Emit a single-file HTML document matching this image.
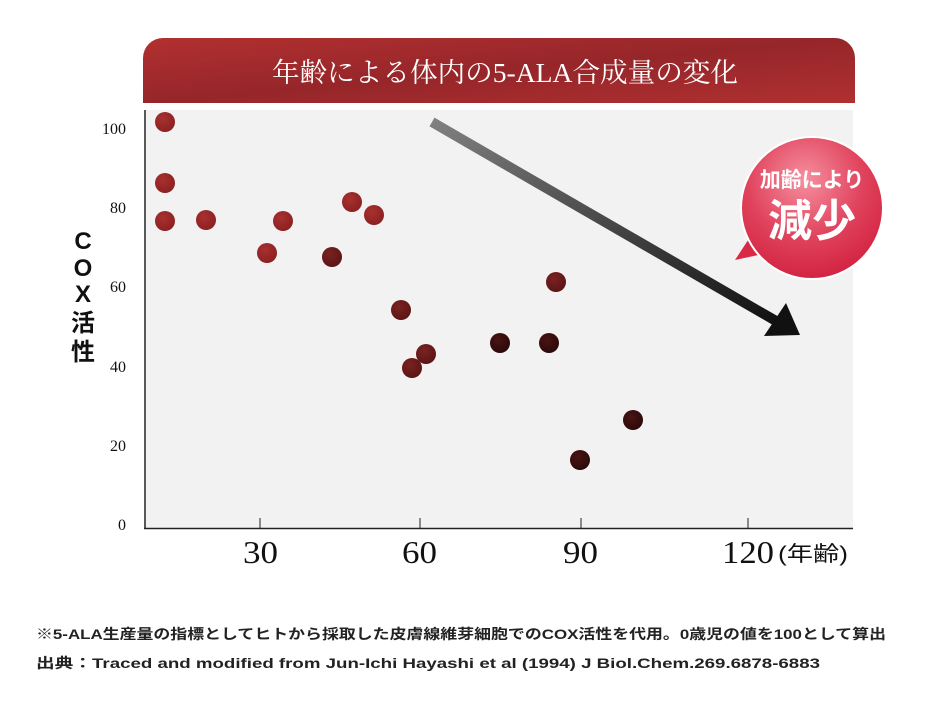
<!DOCTYPE html>
<html><head><meta charset="utf-8"><style>
body{margin:0;background:#fff;width:950px;height:705px;overflow:hidden;font-family:"Liberation Sans","Noto Sans CJK JP",sans-serif}
</style></head><body>
<svg width="950" height="705" viewBox="0 0 950 705" xmlns="http://www.w3.org/2000/svg">
<defs>
<linearGradient id="ban" x1="0" y1="0" x2="1" y2="1"><stop offset="0" stop-color="#b23030"/><stop offset=".5" stop-color="#96262a"/><stop offset="1" stop-color="#b03030"/></linearGradient>
<linearGradient id="arr" x1="0" y1="0" x2="1" y2="1"><stop offset="0" stop-color="#808080"/><stop offset="1" stop-color="#111"/></linearGradient>
<radialGradient id="bad" cx=".45" cy=".3" r=".75"><stop offset="0" stop-color="#f5909f"/><stop offset=".55" stop-color="#e0425c"/><stop offset="1" stop-color="#d01f3e"/></radialGradient>
<radialGradient id="d1" cx=".4" cy=".35" r=".7"><stop offset="0" stop-color="#a83030"/><stop offset="1" stop-color="#8a2020"/></radialGradient>
<radialGradient id="d2" cx=".4" cy=".35" r=".7"><stop offset="0" stop-color="#7a2222"/><stop offset="1" stop-color="#5a1414"/></radialGradient>
<radialGradient id="d3" cx=".4" cy=".35" r=".7"><stop offset="0" stop-color="#4a1414"/><stop offset="1" stop-color="#2a0808"/></radialGradient>
</defs>
<path d="M143 103V58a20 20 0 0 1 20-20h672a20 20 0 0 1 20 20v45z" fill="url(#ban)"/>
<text x="272" y="82" fill="#fff" font-family="Liberation Serif,'Noto Serif CJK SC',serif" font-size="27" textLength="466" lengthAdjust="spacingAndGlyphs">年齢による体内の5-ALA合成量の変化</text>
<rect x="146" y="110" width="707" height="418" fill="#f2f2f2"/>
<line x1="145" y1="110" x2="145" y2="529" stroke="#222" stroke-width="1.5"/>
<line x1="144" y1="528.5" x2="853" y2="528.5" stroke="#222" stroke-width="1.5"/>
<g stroke="#222" stroke-width="1"><line x1="260" y1="518" x2="260" y2="528"/><line x1="420" y1="518" x2="420" y2="528"/><line x1="581" y1="518" x2="581" y2="528"/><line x1="748" y1="518" x2="748" y2="528"/></g>
<g font-family="Liberation Serif,serif" font-size="16" fill="#111" text-anchor="end">
<text x="126" y="134">100</text><text x="126" y="213">80</text><text x="126" y="292">60</text><text x="126" y="372">40</text><text x="126" y="451">20</text><text x="126" y="530">0</text></g>
<g font-family="Liberation Serif,serif" font-size="32" fill="#111">
<text x="243" y="563" textLength="35" lengthAdjust="spacingAndGlyphs">30</text>
<text x="402" y="563" textLength="35" lengthAdjust="spacingAndGlyphs">60</text>
<text x="563" y="563" textLength="35" lengthAdjust="spacingAndGlyphs">90</text>
<text x="722" y="563" textLength="52" lengthAdjust="spacingAndGlyphs">120</text></g>
<text x="778" y="561" font-size="21" fill="#111" textLength="70" lengthAdjust="spacingAndGlyphs">(年齢)</text>
<g font-size="24" fill="#111" text-anchor="middle" font-weight="bold"><text x="83" y="249">C</text><text x="83" y="276">O</text><text x="83" y="302">X</text><text x="83" y="331">活</text><text x="83" y="360">性</text></g>
<line x1="432" y1="122" x2="776" y2="321" stroke="url(#arr)" stroke-width="10"/>
<polygon points="764,336 800,335 786,303" fill="#111"/>
<g>
<circle cx="165" cy="122" r="10" fill="url(#d1)"/><circle cx="165" cy="183" r="10" fill="url(#d1)"/><circle cx="165" cy="221" r="10" fill="url(#d1)"/><circle cx="206" cy="220" r="10" fill="url(#d1)"/><circle cx="283" cy="221" r="10" fill="url(#d1)"/><circle cx="267" cy="253" r="10" fill="url(#d1)"/><circle cx="352" cy="202" r="10" fill="url(#d1)"/><circle cx="374" cy="215" r="10" fill="url(#d1)"/><circle cx="332" cy="257" r="10" fill="url(#d2)"/><circle cx="401" cy="310" r="10" fill="url(#d2)"/><circle cx="412" cy="368" r="10" fill="url(#d2)"/><circle cx="426" cy="354" r="10" fill="url(#d2)"/><circle cx="500" cy="343" r="10" fill="url(#d3)"/><circle cx="549" cy="343" r="10" fill="url(#d3)"/><circle cx="556" cy="282" r="10" fill="url(#d2)"/><circle cx="580" cy="460" r="10" fill="url(#d3)"/><circle cx="633" cy="420" r="10" fill="url(#d3)"/>
</g>
<path d="M735 260 L758 225 L782 250 Z" fill="#d82a46"/>
<circle cx="812" cy="208" r="71" fill="url(#bad)" stroke="#fff" stroke-width="2"/>
<text x="812" y="187" fill="#fff" font-size="21" text-anchor="middle" font-weight="bold">加齢により</text>
<text x="812" y="236" fill="#fff" font-size="44" text-anchor="middle" font-weight="bold">減少</text>
<text x="36" y="639" fill="#222" font-size="14" font-weight="bold" textLength="850" lengthAdjust="spacingAndGlyphs">※5-ALA生産量の指標としてヒトから採取した皮膚線維芽細胞でのCOX活性を代用。0歳児の値を100として算出</text>
<text x="36" y="668" fill="#222" font-size="14" font-weight="bold" textLength="784" lengthAdjust="spacingAndGlyphs">出典：Traced and modified from Jun-Ichi Hayashi et al (1994) J Biol.Chem.269.6878-6883</text>
</svg>
</body></html>
